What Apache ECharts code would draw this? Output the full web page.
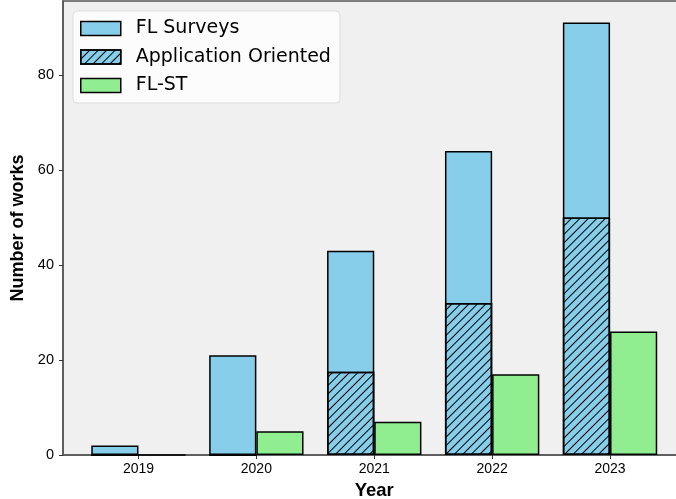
<!DOCTYPE html>
<html>
<head>
<meta charset="utf-8">
<script src="https://cdn.jsdelivr.net/npm/echarts@6/dist/echarts.min.js"></script>
<style>
  html, body { margin: 0; padding: 0; background: #fff; }
  #chart { width: 676px; height: 499px; }
</style>
</head>
<body>
<div id="chart"></div>
<script>
// data
const years = [2019, 2020, 2021, 2022, 2023]
const flSurveys = [2, 21, 43, 64, 91]
const appOriented = [0, 0, 17.5, 32, 50]
const flSt = [0, 5, 7, 17, 26]
const yTicks = [0, 20, 40, 60, 80]

const shift = 0.2 // half of the bar width in years
const left = years.map(y => y - shift)
const right = years.map(y => y + shift)

const barStyle = {
  borderColor: '#000',
  borderWidth: 1.5
}

const chart = echarts.init(document.getElementById('chart'))
chart.setOption({
  animation: false,
  backgroundColor: '#fff',
  textStyle: { fontFamily: 'DejaVu Sans' },
  grid: {
    left: 63,
    top: 1,
    width: 622.5,
    height: 454,
    outerBoundsMode: 'none',
    containLabel: false,
    show: true,
    backgroundColor: '#f0f0f0',
    borderColor: '#555',
    borderWidth: 1.5
  },
  legend: {
    orient: 'vertical',
    left: 73,
    top: 11,
    padding: [8, 9, 8, 7],
    itemGap: 9.5,
    itemWidth: 40,
    itemHeight: 14,
    backgroundColor: 'rgba(255,255,255,0.8)',
    borderColor: '#ddd',
    borderWidth: 1,
    borderRadius: 4,
    icon: 'rect',
    itemStyle: { borderColor: '#000', borderWidth: 1.5 },
    textStyle: {
      fontSize: 19,
      lineHeight: 19,
      color: '#000',
      fontFamily: 'DejaVu Sans',
      padding: [0, 0, 0, 10]
    },
    data: ['FL Surveys', 'Application Oriented', 'FL-ST']
  },
  xAxis: {
    type: 'value',
    min: 2018.36,
    max: 2023.64,
    name: 'Year',
    nameLocation: 'middle',
    nameGap: 26,
    nameTextStyle: { fontFamily: 'Liberation Sans', fontWeight: 'bold', fontSize: 18.5, color: '#000' },
    splitLine: { show: false },
    axisLine: { show: true, onZero: false, lineStyle: { color: '#555', width: 1.5 } },
    axisTick: { show: true, length: 4, customValues: years, lineStyle: { color: '#333', width: 1 } },
    axisLabel: { customValues: years, formatter: v => String(v), fontFamily: 'Liberation Sans', fontSize: 14, color: '#000', margin: 7 }
  },
  yAxis: {
    type: 'value',
    min: 0,
    max: 95.55,
    name: 'Number of works',
    nameLocation: 'middle',
    nameGap: 33,
    nameTextStyle: { fontFamily: 'Liberation Sans', fontWeight: 'bold', fontSize: 18, color: '#000' },
    splitLine: { show: false },
    axisLine: { show: true, lineStyle: { color: '#555', width: 1.5 } },
    axisTick: { show: true, length: 4, customValues: yTicks, lineStyle: { color: '#333', width: 1 } },
    axisLabel: { customValues: yTicks, fontFamily: 'Liberation Sans', fontSize: 14.5, color: '#000', margin: 9 }
  },
  series: [
    {
      name: 'FL Surveys',
      type: 'bar',
      barWidth: 47.2,
      barGap: '-100%',
      itemStyle: Object.assign({ color: '#87ceeb' }, barStyle),
      data: left.map((x, i) => [x, flSurveys[i]])
    },
    {
      name: 'Application Oriented',
      type: 'bar',
      barWidth: 47.2,
      barGap: '-100%',
      itemStyle: Object.assign({
        color: '#87ceeb',
        decal: {
          symbol: 'rect',
          color: '#000',
          dashArrayX: [1, 0],
          dashArrayY: [1, 4.6],
          rotation: -Math.PI / 4
        }
      }, barStyle),
      data: left.map((x, i) => [x, appOriented[i]])
    },
    {
      name: 'FL-ST',
      type: 'bar',
      barWidth: 47.2,
      barGap: '-100%',
      itemStyle: Object.assign({ color: '#90ee90' }, barStyle),
      data: right.map((x, i) => [x, flSt[i]])
    }
  ]
})
</script>
</body>
</html>
